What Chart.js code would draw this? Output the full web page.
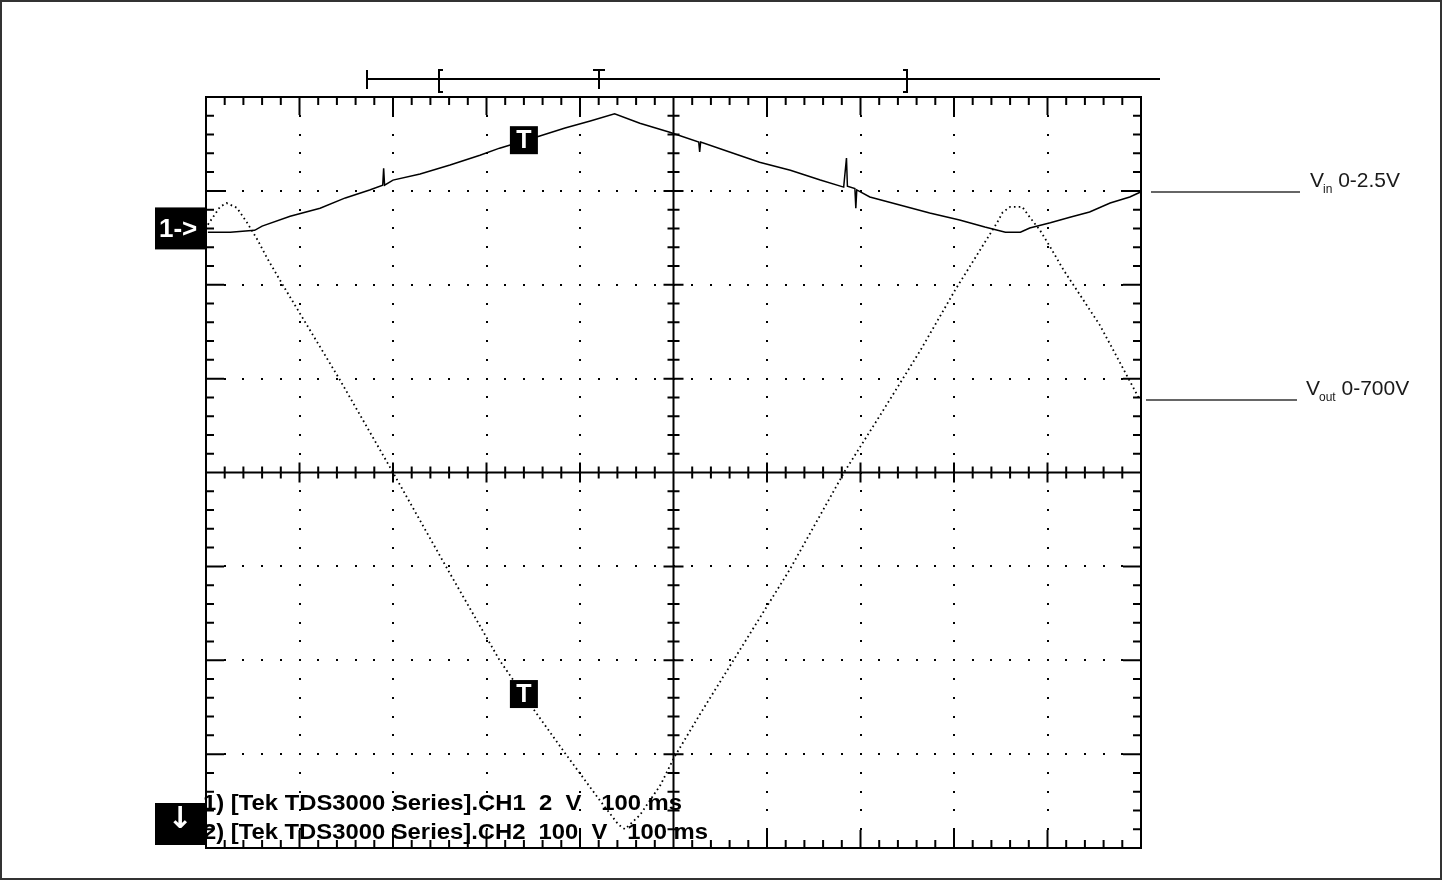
<!DOCTYPE html>
<html>
<head>
<meta charset="utf-8">
<title>Vin / Vout scope capture</title>
<script src="https://cdn.jsdelivr.net/npm/chart.js@4.4.0/dist/chart.umd.min.js"></script>
<style>
  html, body { margin: 0; padding: 0; background: #fff; }
  #scope { display: block; }
</style>
</head>
<body>
<canvas id="scope" width="1442" height="880"></canvas>
<script>
// CH1 = Vin, volts (2 V/div)
const ch1Time = [2, 26, 52, 60, 90, 122, 149, 175, 189, 190, 191, 200, 229, 261, 293, 314, 357, 384, 411, 437,
  464, 496, 527, 528, 529, 560, 592, 625, 657, 682, 685, 686, 694, 695, 696, 710, 742, 774, 806, 833,
  855, 871, 881, 903, 924, 945, 967, 988, 999];
const ch1Volts = [-0.08, -0.08, -0.04, 0.05, 0.26, 0.43, 0.65, 0.82, 0.92, 1.28, 0.92, 1.03, 1.16, 1.35, 1.56, 1.71, 1.97, 2.14, 2.29, 2.44,
  2.24, 2.05, 1.84, 1.63, 1.84, 1.63, 1.41, 1.24, 1.03, 0.88, 1.50, 0.90, 0.85, 0.43, 0.82, 0.67, 0.50, 0.33, 0.18, 0.03,
  -0.08, -0.08, 0.01, 0.12, 0.24, 0.35, 0.54, 0.67, 0.77];

// CH2 = Vout, volts (100 V/div)
const ch2Time = [2, 15, 22, 33, 44, 55, 65, 82, 143, 200, 256, 314, 343, 384, 421, 441, 448, 464, 486, 501,
  528, 571, 624, 683, 721, 764, 801, 831, 846, 852, 860, 873, 881, 892, 903, 917, 956, 999];
const ch2Volts = [684, 703, 707, 702, 686, 668, 649, 620, 519, 420, 321, 220, 178, 121, 71, 45, 40, 55, 87, 117,
  162, 231, 316, 421, 481, 550, 614, 662, 686, 697, 703, 703, 692, 678, 660, 636, 577, 497];

// 10 div x 100 ms, 8 div per channel
const timeRange = [0, 1000];
const ch1Range = [-13.2, 2.8];   // ground 2.6 div above centre
const ch2Range = [20, 820];      // ground just below the screen

const triggerMarks = [
  { t: 340, v: 1.88, axis: 'y1' },
  { t: 340, v: 184, axis: 'y2' },
];

const bottomLabels = [
  '1) [Tek TDS3000 Series].CH1  2  V   100 ms',
  '2) [Tek TDS3000 Series].CH2  100  V   100 ms',
];
const sideLabels = [
  { main: 'V', sub: 'in', rest: ' 0-2.5V' },
  { main: 'V', sub: 'out', rest: ' 0-700V' },
];

const SANS = '"Liberation Sans", Arial, sans-serif';

const graticule = {
  id: 'graticule',
  beforeDatasetsDraw(chart) {
    const { ctx, chartArea: a } = chart;
    const cols = 10, rows = 8, sub = 5;
    const dx = (a.right - a.left) / cols, dy = (a.bottom - a.top) / rows;
    const cx = a.left + dx * cols / 2, cy = a.top + dy * rows / 2;
    ctx.save();
    ctx.fillStyle = '#000';
    // dotted division lines, a dot on every minor step
    for (let i = 1; i < cols; i++) {
      if (i === cols / 2) continue;
      const x = Math.round(a.left + i * dx);
      for (let j = 1; j < rows * sub; j++) ctx.fillRect(x - 1, Math.round(a.top + j * dy / sub) - 1, 2, 2);
    }
    for (let k = 1; k < rows; k++) {
      if (k === rows / 2) continue;
      const y = Math.round(a.top + k * dy);
      for (let j = 1; j < cols * sub; j++) ctx.fillRect(Math.round(a.left + j * dx / sub) - 1, y - 1, 2, 2);
    }
    ctx.strokeStyle = '#000';
    ctx.lineWidth = 2;
    ctx.strokeRect(a.left, a.top, a.right - a.left, a.bottom - a.top);
    ctx.beginPath();
    ctx.moveTo(cx, a.top); ctx.lineTo(cx, a.bottom);
    ctx.moveTo(a.left, cy); ctx.lineTo(a.right, cy);
    for (let j = 1; j < cols * sub; j++) {
      const x = a.left + j * dx / sub, major = j % sub === 0;
      const edge = major ? 18 : 8, cross = major ? 10 : 6;
      ctx.moveTo(x, a.top); ctx.lineTo(x, a.top + edge);
      ctx.moveTo(x, a.bottom); ctx.lineTo(x, a.bottom - edge);
      ctx.moveTo(x, cy - cross); ctx.lineTo(x, cy + cross);
    }
    for (let j = 1; j < rows * sub; j++) {
      const y = a.top + j * dy / sub, major = j % sub === 0;
      const edge = major ? 18 : 8, cross = major ? 10 : 6;
      ctx.moveTo(a.left, y); ctx.lineTo(a.left + edge, y);
      ctx.moveTo(a.right, y); ctx.lineTo(a.right - edge, y);
      ctx.moveTo(cx - cross, y); ctx.lineTo(cx + cross, y);
    }
    ctx.stroke();
    ctx.restore();
  }
};

const overlay = {
  id: 'overlay',
  afterDatasetsDraw(chart) {
    const { ctx, chartArea: a, scales } = chart;
    ctx.save();

    // readout lines at the bottom
    ctx.fillStyle = '#000';
    ctx.font = 'bold 22px ' + SANS;
    ctx.textBaseline = 'alphabetic';
    const widths = [479, 505], baselines = [810, 839];
    bottomLabels.forEach((txt, i) => {
      const w = ctx.measureText(txt).width;
      ctx.save();
      ctx.translate(203, baselines[i]);
      ctx.scale(widths[i] / w, 1);
      ctx.fillText(txt, 0, 0);
      ctx.restore();
    });

    // trigger markers on the traces
    triggerMarks.forEach(m => {
      const x = scales.x.getPixelForValue(m.t), y = scales[m.axis].getPixelForValue(m.v);
      ctx.fillStyle = '#000';
      ctx.fillRect(x - 14, y - 14, 28, 28);
      ctx.fillStyle = '#fff';
      ctx.font = 'bold 25px ' + SANS;
      ctx.textAlign = 'center';
      ctx.textBaseline = 'middle';
      ctx.fillText('T', x, y + 1);
    });

    // channel markers on the left
    const g1 = scales.y1.getPixelForValue(0);
    ctx.fillStyle = '#000';
    ctx.fillRect(155, g1 - 21, 51, 42);
    ctx.fillRect(155, a.bottom - 45, 51, 42);
    ctx.fillStyle = '#fff';
    ctx.textAlign = 'left';
    ctx.textBaseline = 'middle';
    ctx.font = 'bold 26px ' + SANS;
    ctx.fillText('1->', 159, g1 + 1);
    ctx.font = 'bold 30px "DejaVu Sans", sans-serif';
    ctx.textAlign = 'center';
    ctx.fillText('\u2193', 180, a.bottom - 28);

    // record window bar above the screen
    ctx.strokeStyle = '#000';
    ctx.lineWidth = 2;
    ctx.beginPath();
    ctx.moveTo(367, 79); ctx.lineTo(1160, 79);
    ctx.moveTo(367, 70); ctx.lineTo(367, 89);
    ctx.moveTo(443, 70); ctx.lineTo(439, 70); ctx.lineTo(439, 92); ctx.lineTo(443, 92);
    ctx.moveTo(593, 70); ctx.lineTo(605, 70);
    ctx.moveTo(599, 70); ctx.lineTo(599, 89);
    ctx.moveTo(903, 70); ctx.lineTo(907, 70); ctx.lineTo(907, 92); ctx.lineTo(903, 92);
    ctx.stroke();

    // side annotations, pointing at the trace ends
    const ends = [
      scales.y1.getPixelForValue(ch1Volts[ch1Volts.length - 1]),
      scales.y2.getPixelForValue(ch2Volts[ch2Volts.length - 1]),
    ];
    const lineX = [[1151, 1300], [1146, 1297]];
    const textX = [1310, 1306];
    ctx.strokeStyle = '#333';
    ctx.lineWidth = 1.5;
    ctx.fillStyle = '#1a1a1a';
    ctx.textAlign = 'left';
    ctx.textBaseline = 'alphabetic';
    sideLabels.forEach((lab, i) => {
      const y = Math.round(ends[i]);
      ctx.beginPath();
      ctx.moveTo(lineX[i][0], y); ctx.lineTo(lineX[i][1], y);
      ctx.stroke();
      let x = textX[i];
      ctx.font = '21px ' + SANS;
      ctx.fillText(lab.main, x, y - 5);
      x += ctx.measureText(lab.main).width - 1;
      ctx.font = '12px ' + SANS;
      ctx.fillText(lab.sub, x, y + 1);
      x += ctx.measureText(lab.sub).width;
      ctx.font = '21px ' + SANS;
      ctx.fillText(lab.rest, x, y - 5);
    });

    // page frame
    ctx.strokeStyle = '#333';
    ctx.lineWidth = 2;
    ctx.strokeRect(1, 1, chart.width - 2, chart.height - 2);
    ctx.restore();
  }
};

new Chart(document.getElementById('scope'), {
  type: 'line',
  data: {
    datasets: [
      {
        label: 'Vin',
        data: ch1Time.map((t, i) => ({ x: t, y: ch1Volts[i] })),
        yAxisID: 'y1',
        borderColor: '#000',
        borderWidth: 1.5,
        pointRadius: 0,
        tension: 0,
      },
      {
        label: 'Vout',
        data: ch2Time.map((t, i) => ({ x: t, y: ch2Volts[i] })),
        yAxisID: 'y2',
        borderColor: '#000',
        borderWidth: 1.8,
        borderDash: [1.6, 3.2],
        pointRadius: 0,
        tension: 0,
      },
    ],
  },
  options: {
    responsive: false,
    animation: false,
    layout: { padding: { left: 206, right: 301, top: 97, bottom: 32 } },
    plugins: {
      legend: { display: false },
      tooltip: { enabled: false },
    },
    scales: {
      x: { type: 'linear', min: timeRange[0], max: timeRange[1], display: false },
      y1: { type: 'linear', min: ch1Range[0], max: ch1Range[1], display: false },
      y2: { type: 'linear', min: ch2Range[0], max: ch2Range[1], display: false },
    },
  },
  plugins: [graticule, overlay],
});
</script>
</body>
</html>
